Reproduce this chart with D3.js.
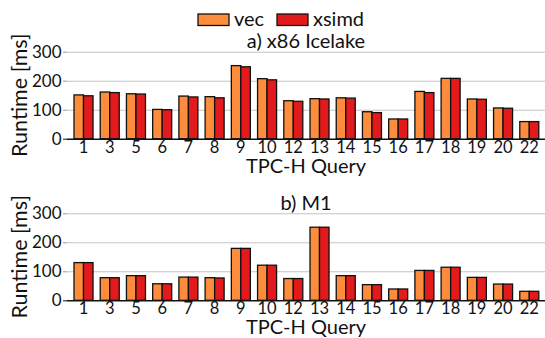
<!DOCTYPE html>
<html>
<head>
<meta charset="utf-8">
<script src="https://cdn.jsdelivr.net/npm/d3@7"></script>
<style>
  body { margin: 0; background: #fff; }
  text { font-family: Lato, 'Open Sans', sans-serif; fill: #111; }
</style>
</head>
<body>
<script>
var queries = ['1','3','5','6','7','8','9','10','12','13','14','15','16','17','18','19','20','22'];
var seriesNames = ['vec', 'xsimd'];
var seriesColors = ['#fd8d3c', '#e31a1c'];
var yTicks = [0, 100, 200, 300];

var x86Vec   = [151, 161, 155, 101, 147, 145, 252, 207, 131, 138, 141, 93, 68, 163, 208, 137, 106, 59];
var x86Xsimd = [148, 159, 154, 100, 144, 141, 248, 203, 129, 137, 140, 90, 68, 159, 208, 136, 105, 59];
var m1Vec    = [130, 78, 85, 57, 80, 78, 179, 121, 75, 252, 85, 54, 39, 103, 114, 79, 56, 31];
var m1Xsimd  = [130, 78, 85, 57, 80, 77, 179, 121, 75, 252, 85, 54, 39, 103, 114, 79, 56, 31];

var w = 545;
var h = 338;
var left = 67;
var right = 545;

var svg = d3.select('body')
            .append('svg')
            .attr('width', w)
            .attr('height', h);

svg.append('rect')
   .attr('width', w)
   .attr('height', h)
   .attr('fill', 'white');

var x = d3.scaleBand()
          .domain(queries)
          .range([70.4, 542.4])
          .paddingInner(0.275)
          .paddingOuter(0.1375);

var xs = d3.scaleBand()
           .domain(seriesNames)
           .range([0, x.bandwidth()]);

// legend
var legend = svg.append('g');
var legendX = [198, 277];
seriesNames.forEach(function(name, i){
    legend.append('rect')
          .attr('x', legendX[i])
          .attr('y', 14)
          .attr('width', 31)
          .attr('height', 11.5)
          .attr('fill', seriesColors[i])
          .attr('stroke', '#111')
          .attr('stroke-width', 1.3);
    legend.append('text')
          .attr('x', legendX[i] + 36)
          .attr('y', 26)
          .style('font-size', '20px')
          .text(name);
});

function panel(top, bottom, title, titleY, vec, xsimd){
    var y = d3.scaleLinear().domain([0, 300]).range([bottom, top]);
    var g = svg.append('g');

    // grid
    var grid = g.append('g')
                .attr('transform', 'translate(' + left + ',0)')
                .call(d3.axisLeft(y).tickValues(yTicks).tickSize(-(right - left)).tickFormat(''));
    grid.select('.domain').remove();
    grid.selectAll('line')
        .attr('stroke', function(d){ return d === 0 ? '#111' : '#c4c4c4'; })
        .attr('stroke-width', function(d){ return d === 0 ? 1.4 : 1.1; });

    var yAxis = g.append('g')
                 .attr('transform', 'translate(' + left + ',0)')
                 .call(d3.axisLeft(y).tickValues(yTicks).tickSize(4).tickPadding(1.5));
    yAxis.select('.domain').remove();
    yAxis.selectAll('line')
         .attr('stroke', function(d){ return d === 0 ? '#111' : '#999'; });
    yAxis.selectAll('text')
         .style('font-size', '17px')
         .style('font-family', 'Lato')
         .attr('fill', '#111');

    var rows = queries.map(function(q, i){
        return {q: q, values: [vec[i], xsimd[i]]};
    });

    g.selectAll('g.grp')
     .data(rows)
     .enter()
     .append('g')
     .attr('transform', function(d){ return 'translate(' + x(d.q) + ',0)'; })
     .selectAll('rect')
     .data(function(d){ return d.values.map(function(v, i){ return {name: seriesNames[i], v: v, i: i}; }); })
     .enter()
     .append('rect')
     .attr('x', function(d){ return xs(d.name); })
     .attr('y', function(d){ return y(d.v); })
     .attr('width', xs.bandwidth())
     .attr('height', function(d){ return y(0) - y(d.v); })
     .attr('fill', function(d){ return seriesColors[d.i]; })
     .attr('stroke', '#111')
     .attr('stroke-width', 1.3);

    var xAxis = g.append('g')
                 .attr('transform', 'translate(0,' + bottom + ')')
                 .call(d3.axisBottom(x).tickSize(0).tickPadding(2.4));
    xAxis.select('.domain').remove();
    xAxis.selectAll('text')
         .style('font-size', '16.5px')
         .style('font-family', 'Lato')
         .attr('fill', '#111');

    g.append('text')
     .attr('x', (left + right) / 2)
     .attr('y', bottom + 34)
     .attr('text-anchor', 'middle')
     .style('font-size', '20px')
     .text('TPC-H Query');

    g.append('text')
     .attr('transform', 'translate(27,' + ((top + bottom) / 2) + ') rotate(-90)')
     .attr('text-anchor', 'middle')
     .style('font-size', '21.5px')
     .text('Runtime [ms]');

    g.append('text')
     .attr('x', (left + right) / 2)
     .attr('y', titleY)
     .attr('text-anchor', 'middle')
     .style('font-size', '20px')
     .text(title);
}

panel(51.7, 138.7, 'a) x86 Icelake', 48, x86Vec, x86Xsimd);
panel(213.3, 300.3, 'b) M1', 210, m1Vec, m1Xsimd);
</script>
</body>
</html>
